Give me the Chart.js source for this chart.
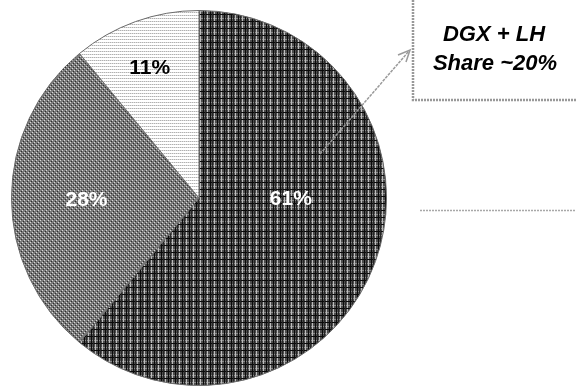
<!DOCTYPE html>
<html>
<head>
<meta charset="utf-8">
<script src="https://cdn.jsdelivr.net/npm/chart.js@4/dist/chart.umd.min.js"></script>
<style>
  html, body { margin: 0; padding: 0; background: #fff; }
  #wrap { width: 576px; height: 387px; }
</style>
</head>
<body>
<div id="wrap"><canvas id="pieChart" width="576" height="387"></canvas></div>
<script>
// slice values (clockwise from 12 o'clock)
const categories = ['A', 'B', 'C'];
const shares = [61, 28, 11];
const shareLabels = ['61%', '28%', '11%'];
const calloutLines = ['DGX + LH', 'Share ~20%'];

// hatch patterns like the scanned figure
function makePattern(w, h, draw) {
    const c = document.createElement('canvas');
    c.width = w; c.height = h;
    const g = c.getContext('2d');
    draw(g);
    return g.createPattern(c, 'repeat');
}

const darkHatch = makePattern(7, 7, g => {
    g.fillStyle = '#4c4c4c'; g.fillRect(0, 0, 7, 7);
    g.fillStyle = '#8a8a8a'; g.fillRect(0, 4, 7, 1);
    g.fillStyle = '#bdbdbd'; g.fillRect(4, 0, 1, 7);
    g.fillStyle = '#0a0a0a'; g.fillRect(0, 0, 1, 7); g.fillRect(0, 0, 7, 1);
    g.fillStyle = '#262626'; g.fillRect(2, 0, 1, 7);
});
const midHatch = makePattern(4, 4, g => {
    g.fillStyle = '#7a7a7a'; g.fillRect(0, 0, 4, 4);
    g.fillStyle = '#d8d8d8'; g.fillRect(0, 0, 1, 1); g.fillRect(2, 2, 1, 1);
    g.fillStyle = '#2e2e2e'; g.fillRect(1, 3, 1, 1); g.fillRect(3, 1, 1, 1);
});
const lightHatch = makePattern(4, 3, g => {
    g.fillStyle = '#ffffff'; g.fillRect(0, 0, 4, 3);
    g.fillStyle = '#b0b0b0'; g.fillRect(0, 0, 1, 1); g.fillRect(2, 0, 1, 1);
    g.fillStyle = '#dcdcdc'; g.fillRect(1, 0, 1, 1); g.fillRect(3, 0, 1, 1);
});

// where each percent label sits: fraction of radius and angle shift (deg)
const labelRadius = [0.49, 0.6, 0.74];
const labelShift = [-19, -1, -1];
const labelColors = ['#ffffff', '#ffffff', '#000000'];

const sliceLabels = {
    id: 'sliceLabels',
    afterDatasetsDraw(chart) {
        const ctx = chart.ctx;
        const arcs = chart.getDatasetMeta(0).data;
        ctx.save();
        ctx.font = 'bold 21px "Liberation Sans", Arial, sans-serif';
        ctx.textAlign = 'center';
        ctx.textBaseline = 'middle';
        arcs.forEach((arc, i) => {
            const mid = (arc.startAngle + arc.endAngle) / 2 + labelShift[i] * Math.PI / 180;
            const r = arc.outerRadius * labelRadius[i];
            ctx.fillStyle = labelColors[i];
            ctx.fillText(shareLabels[i], arc.x + Math.cos(mid) * r, arc.y + Math.sin(mid) * r);
        });
        ctx.restore();
    }
};

// callout box, arrow and the stray rule on the right
const callout = {
    id: 'callout',
    afterDraw(chart) {
        const ctx = chart.ctx;
        ctx.save();
        ctx.fillStyle = '#fff';
        ctx.fillRect(413, -5, 200, 105);
        ctx.strokeStyle = '#999';
        ctx.lineWidth = 2.5;
        ctx.setLineDash([2, 1]);
        ctx.strokeRect(413, -5, 200, 105);

        ctx.setLineDash([3, 1]);
        ctx.lineWidth = 1.5;
        ctx.strokeStyle = '#9a9a9a';
        ctx.beginPath();
        ctx.moveTo(320, 154);
        ctx.lineTo(409, 51);
        ctx.stroke();
        ctx.setLineDash([]);
        ctx.beginPath();
        ctx.moveTo(398, 55);
        ctx.lineTo(410, 50);
        ctx.lineTo(406, 62);
        ctx.stroke();

        ctx.strokeStyle = '#a8a8a8';
        ctx.lineWidth = 1.5;
        ctx.setLineDash([2, 1]);
        ctx.beginPath();
        ctx.moveTo(420, 210.5);
        ctx.lineTo(576, 210.5);
        ctx.stroke();
        ctx.setLineDash([]);

        ctx.fillStyle = '#000';
        ctx.font = 'italic bold 22px "Liberation Sans", Arial, sans-serif';
        ctx.textAlign = 'center';
        ctx.textBaseline = 'middle';
        ctx.fillText(calloutLines[0], 494, 35);
        ctx.fillText(calloutLines[1], 495, 64);
        ctx.restore();
    }
};

const pieCtx = document.getElementById('pieChart').getContext('2d');
new Chart(pieCtx, {
    type: 'pie',
    data: {
        labels: categories,
        datasets: [{
            data: shares,
            backgroundColor: [darkHatch, midHatch, lightHatch],
            borderColor: '#6a6a6a',
            borderWidth: 1
        }]
    },
    options: {
        responsive: false,
        animation: false,
        layout: { padding: { left: 11, right: 189, top: 10, bottom: 1 } },
        plugins: {
            legend: { display: false },
            tooltip: { enabled: false }
        }
    },
    plugins: [sliceLabels, callout]
});
</script>
</body>
</html>
